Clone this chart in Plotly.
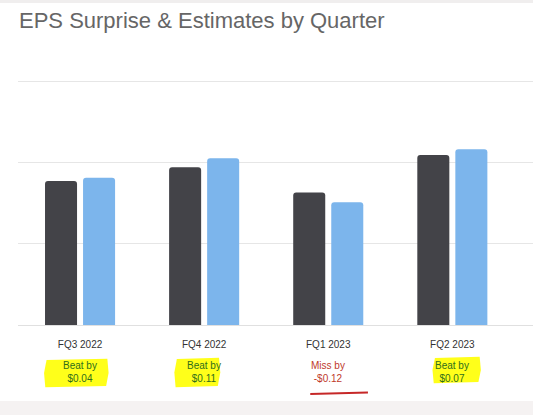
import plotly.graph_objects as go

quarters = ["FQ3 2022", "FQ4 2022", "FQ1 2023", "FQ2 2023"]
estimates = [1.77, 1.94, 1.63, 2.09]
actuals = [1.81, 2.05, 1.51, 2.16]
surprise_labels = ["Beat by<br>$0.04", "Beat by<br>$0.11", "Miss by<br>-$0.12", "Beat by<br>$0.07"]
surprise_kind = ["beat", "beat", "miss", "beat"]

W, H = 533, 415
L, T, B = 18, 79, 90
plot_h = H - T - B
plot_w = W - L
Y_TOP = 3 * plot_h / (H - B - 81)  # so the top gridline sits at pixel 81

def py(px):
    # pixel y (from top) -> paper y
    return (H - B - px) / plot_h

fig = go.Figure()
fig.add_trace(go.Bar(x=list(range(len(quarters))), y=estimates, marker_color="#434348",
                     marker_line_width=0, name="Estimate"))
fig.add_trace(go.Bar(x=list(range(len(quarters))), y=actuals, marker_color="#7cb5ec",
                     marker_line_width=0, name="Actual"))

shapes = []
xl = -L / plot_w
# background bands (kept inside the figure bounds)
shapes.append(dict(type="rect", xref="paper", yref="paper", x0=xl, x1=1.0,
                   y0=py(H), y1=py(401), fillcolor="#f5f2f2", line_width=0, layer="below"))
shapes.append(dict(type="rect", xref="paper", yref="paper", x0=xl, x1=1.0,
                   y0=py(3), y1=py(0), fillcolor="#f0eeee", line_width=0, layer="below"))

# highlighter blobs (relative to category index)
hl = {0: (-0.29, 0.23, 360, 386), 1: (-0.24, 0.13, 359, 386), 3: (-0.16, 0.23, 358, 382)}
for i, (a, b, ytop, ybot) in hl.items():
    x0, x1 = i + a, i + b
    y0, y1 = py(ybot), py(ytop)
    path = (f"M {x0+0.02},{y1} L {x1-0.01},{y1+0.005} L {x1},{(y0+y1)/2} "
            f"L {x1-0.02},{y0} L {x0+0.01},{y0-0.005} L {x0},{(y0+y1)/2} Z")
    shapes.append(dict(type="path", xref="x", yref="paper", path=path,
                       fillcolor="#ffff1a", line_width=0, layer="above"))

# red underline for the miss
for i, k in enumerate(surprise_kind):
    if k == "miss":
        shapes.append(dict(type="line", xref="x", yref="paper", x0=i - 0.145, x1=i + 0.32,
                           y0=py(394), y1=py(392.5), line=dict(color="#c62828", width=2)))

fig.update_layout(shapes=shapes)

annotations = []
for i, (lab, k) in enumerate(zip(surprise_labels, surprise_kind)):
    annotations.append(dict(x=i, xref="x", y=py(372), yref="paper", text=lab,
                            showarrow=False, yanchor="middle", align="center",
                            font=dict(size=10, color="#2f6e1a" if k == "beat" else "#c0392b",
                                      family="Liberation Sans, Arial, sans-serif")))
fig.update_layout(annotations=annotations)

fig.update_layout(
    width=W, height=H,
    margin=dict(l=L, r=0, t=T, b=B),
    paper_bgcolor="white", plot_bgcolor="white",
    showlegend=False,
    barmode="group", bargap=0.387, bargroupgap=0.158, barcornerradius=3,
    title=dict(text="EPS Surprise & Estimates by Quarter", x=19 / W, xanchor="left",
               y=1 - 20 / H, yanchor="middle",
               font=dict(size=22, color="#666666", family="Liberation Sans, Arial, sans-serif")),
    font=dict(family="Liberation Sans, Arial, sans-serif"),
)
fig.update_xaxes(tickmode="array", tickvals=list(range(len(quarters))), ticktext=quarters,
                 range=[-0.5, 3.65], showgrid=False, zeroline=False,
                 showline=False, ticks="outside", ticklen=10, tickcolor="rgba(0,0,0,0)",
                 tickfont=dict(size=10, color="#333333"))
fig.update_yaxes(range=[0, Y_TOP], dtick=1, showgrid=True, gridcolor="#e6e6e6", gridwidth=1,
                 zeroline=True, zerolinecolor="#e0e0e0", zerolinewidth=1,
                 showticklabels=False, showline=False)

fig.write_html("out.html")
